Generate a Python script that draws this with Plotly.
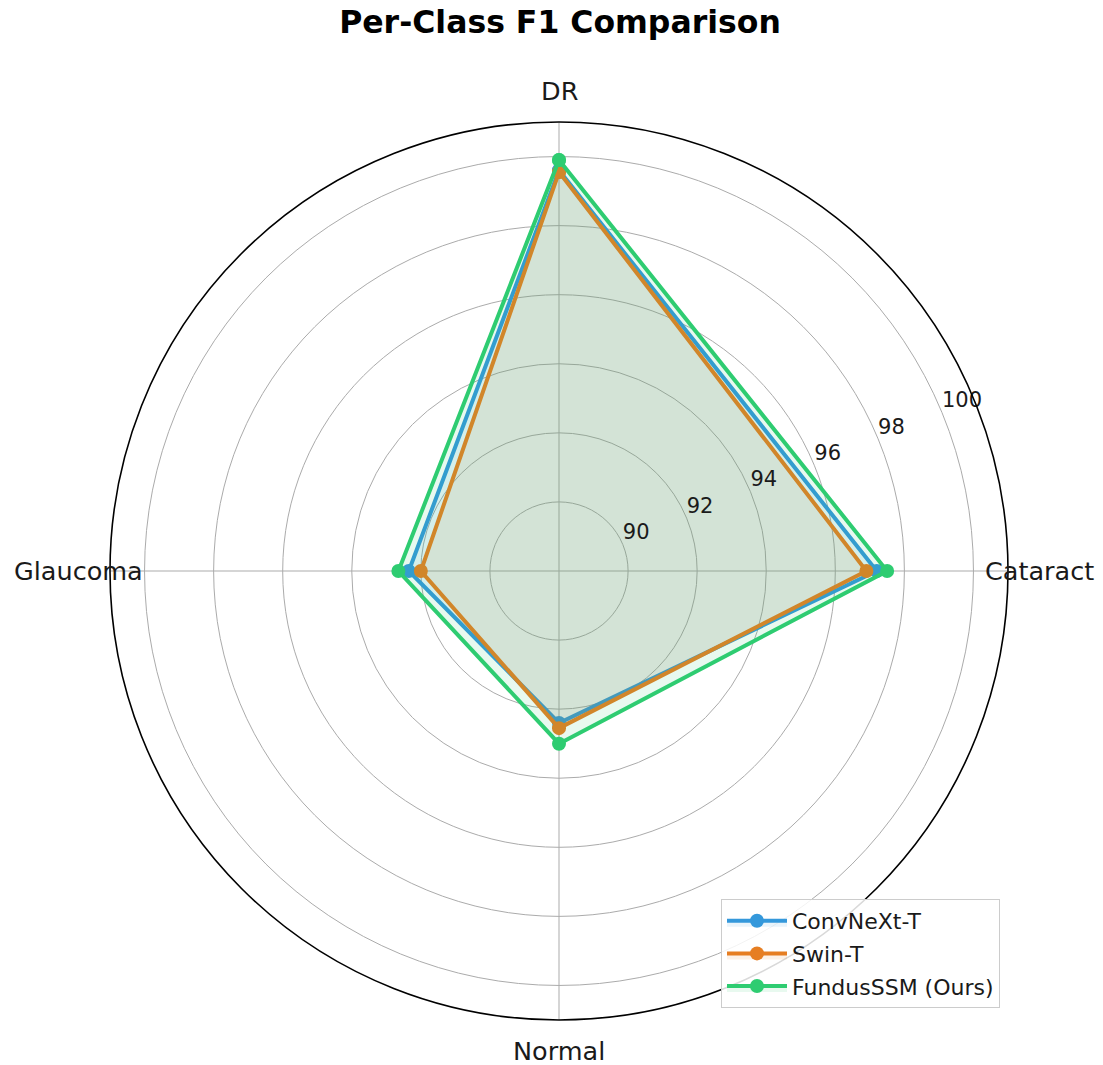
import math
import plotly.graph_objects as go

# ---------------- data ----------------
categories = ["DR", "Cataract", "Normal", "Glaucoma"]
convnext_t = [99.6, 97.2, 92.4, 92.35]
swin_t = [99.55, 96.9, 92.55, 92.0]
fundusssm = [99.9, 97.5, 93.0, 92.65]
radial_ticks = [90, 92, 94, 96, 98, 100]
series_names = ["ConvNeXt-T", "Swin-T", "FundusSSM (Ours)"]

# ---------------- style ----------------
W, H = 1103, 1065
FONT = "DejaVu Sans"
colors = ["#3498db", "#e67e22", "#2ecc71"]
fills = ["rgba(52,152,219,0.11)", "rgba(230,126,34,0.11)", "rgba(46,204,113,0.11)"]
R_MIN, R_MAX = 88, 101
LABEL_R = 101.9
RLABEL_ANGLE = 22.5
GRID = "#ababab"

n = len(categories)
thetas = [(90 - i * 360.0 / n) % 360 for i in range(n)]

fig = go.Figure()

for name, vals, col, fc in zip(series_names, [convnext_t, swin_t, fundusssm], colors, fills):
    fig.add_trace(go.Scatterpolar(
        r=vals + vals[:1],
        theta=thetas + thetas[:1],
        mode="lines+markers",
        name=name,
        legendgroup=name,
        line=dict(color=col, width=4),
        marker=dict(color=col, size=14),
        fill="toself",
        fillcolor=fc,
        hoverinfo="skip",
    ))

# radial tick labels
fig.add_trace(go.Scatterpolar(
    r=radial_ticks,
    theta=[RLABEL_ANGLE] * len(radial_ticks),
    mode="text",
    text=[str(t) for t in radial_ticks],
    textposition="top right",
    textfont=dict(family=FONT, size=21, color="#1a1a1a"),
    cliponaxis=False,
    showlegend=False,
    hoverinfo="skip",
))

cx, cy, rad = 559, 571, 449

# category labels placed just outside the outer circle (converted through the radial scale)
label_px = (LABEL_R - R_MIN) / (R_MAX - R_MIN) * rad
annotations = []
for cat, th in zip(categories, thetas):
    a = math.radians(th)
    px = cx + label_px * math.cos(a)
    py = cy - label_px * math.sin(a)
    annotations.append(dict(
        x=px / W, y=1 - py / H, xref="paper", yref="paper",
        text=cat, showarrow=False, xanchor="center", yanchor="middle",
        font=dict(family=FONT, size=25.5, color="#1a1a1a"),
    ))

fig.update_layout(
    width=W, height=H,
    margin=dict(l=0, r=0, t=0, b=0),
    paper_bgcolor="white",
    plot_bgcolor="white",
    font=dict(family=FONT, color="#1a1a1a"),
    title=dict(
        text="<b>Per-Class F1 Comparison</b>",
        x=560 / W, xanchor="center",
        y=1 - 22 / H, yanchor="middle",
        font=dict(family=FONT, size=31.5, color="black"),
    ),
    annotations=annotations,
    polar=dict(
        domain=dict(x=[(cx - rad) / W, (cx + rad) / W],
                    y=[1 - (cy + rad) / H, 1 - (cy - rad) / H]),
        bgcolor="white",
        radialaxis=dict(
            range=[R_MIN, R_MAX],
            tickmode="array",
            tickvals=radial_ticks,
            showticklabels=False,
            ticks="",
            showline=False,
            gridcolor=GRID,
            gridwidth=1.3,
            angle=RLABEL_ANGLE,
        ),
        angularaxis=dict(
            tickmode="array",
            tickvals=thetas,
            showticklabels=False,
            ticks="",
            showline=True,
            linecolor="black",
            linewidth=1.6,
            gridcolor=GRID,
            gridwidth=1.3,
            direction="counterclockwise",
            rotation=0,
        ),
    ),
    showlegend=True,
    legend=dict(
        x=1000 / W, xanchor="right",
        y=1 - 1008 / H, yanchor="bottom",
        bgcolor="rgba(255,255,255,0.85)",
        bordercolor="#cccccc",
        borderwidth=1,
        font=dict(family=FONT, size=22, color="#1a1a1a"),
        itemwidth=60,
        tracegroupgap=1,
    ),
)

fig.write_html("out.html")
